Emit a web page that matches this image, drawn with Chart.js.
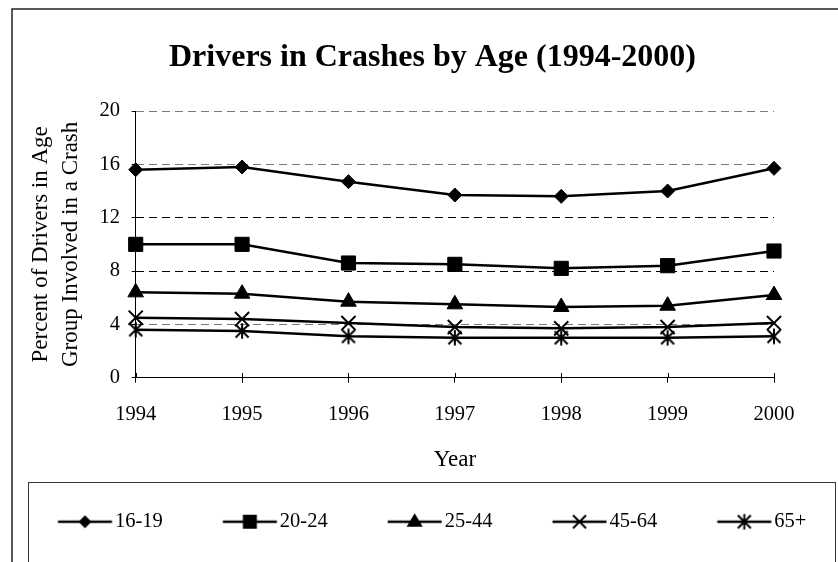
<!DOCTYPE html>
<html>
<head>
<meta charset="utf-8">
<script src="https://cdn.jsdelivr.net/npm/chart.js@4/dist/chart.umd.min.js"></script>
<style>
html,body{margin:0;padding:0;background:#fff;}
#c{display:block;}
</style>
</head>
<body>
<canvas id="c" width="838" height="562"></canvas>
<script>
// ---- data ----
const years = ['1994', '1995', '1996', '1997', '1998', '1999', '2000'];
const seriesNames = ['16-19', '20-24', '25-44', '45-64', '65+'];
const age16to19 = [15.6, 15.8, 14.7, 13.7, 13.6, 14.0, 15.7];
const age20to24 = [10.0, 10.0, 8.6, 8.5, 8.2, 8.4, 9.5];
const age25to44 = [6.4, 6.3, 5.7, 5.5, 5.3, 5.4, 6.2];
const age45to64 = [4.5, 4.4, 4.1, 3.8, 3.7, 3.8, 4.1];
const age65plus = [3.6, 3.5, 3.1, 3.0, 3.0, 3.0, 3.1];
const yTickValues = [0, 4, 8, 12, 16, 20];
const chartTitle = 'Drivers in Crashes by Age (1994-2000)';
const xTitle = 'Year';
const yTitle = ['Percent of Drivers in Age', 'Group Involved in a Crash'];

const seriesData = [age16to19, age20to24, age25to44, age45to64, age65plus];

const FONT = "'Liberation Serif', 'Times New Roman', serif";
Chart.defaults.color = '#000';
Chart.defaults.font.family = FONT;

// ---- marker helpers ----
function drawMarker(g, type, x, y, r) {
  g.save();
  g.fillStyle = '#000';
  g.strokeStyle = '#000';
  g.beginPath();
  if (type === 'diamond') {
    g.moveTo(x, y - r); g.lineTo(x + r, y); g.lineTo(x, y + r); g.lineTo(x - r, y); g.closePath(); g.fill();
  } else if (type === 'square') {
    g.rect(x - r, y - r, 2 * r, 2 * r); g.fill();
  } else if (type === 'triangle') {
    g.moveTo(x, y - r); g.lineTo(x + r * 0.95, y + r * 0.6); g.lineTo(x - r * 0.95, y + r * 0.6); g.closePath(); g.fill();
  } else if (type === 'x') {
    g.lineWidth = 2;
    g.moveTo(x - r, y - r); g.lineTo(x + r, y + r);
    g.moveTo(x + r, y - r); g.lineTo(x - r, y + r); g.stroke();
  } else if (type === 'asterisk') {
    g.lineWidth = 2;
    g.moveTo(x - r, y - r); g.lineTo(x + r, y + r);
    g.moveTo(x + r, y - r); g.lineTo(x - r, y + r);
    g.moveTo(x, y - r * 1.2); g.lineTo(x, y + r * 1.2); g.stroke();
  }
  g.restore();
}

function asteriskImage() {
  const c = document.createElement('canvas');
  c.width = 20; c.height = 20;
  drawMarker(c.getContext('2d'), 'asterisk', 10, 10, 6.5);
  return c;
}

const markerSpecs = [
  { pointStyle: 'rectRot', radius: 7, borderWidth: 1, legend: 'diamond', lr: 6.5 },
  { pointStyle: 'rect', radius: 10, borderWidth: 1, legend: 'square', lr: 7 },
  { pointStyle: 'triangle', radius: 9, borderWidth: 1, legend: 'triangle', lr: 8.5 },
  { pointStyle: 'crossRot', radius: 10, borderWidth: 2, legend: 'x', lr: 6.5 },
  { pointStyle: asteriskImage(), radius: 8, borderWidth: 2, legend: 'asterisk', lr: 6.5 }
];

// legend geometry
const LEG_FONT = 20.5, LEG_B = 96.75, LEG_PAD = 10, LEG_GX = 50, LINE_LEN = 54;

function legendGlyph(spec) {
  const cx = LEG_B / 2;
  const half = Math.max(Math.abs(LEG_GX - cx), Math.abs(LEG_GX + LINE_LEN - cx)) + 2;
  const W = Math.ceil(2 * half), H = 22;
  const c = document.createElement('canvas');
  c.width = W; c.height = H;
  const g = c.getContext('2d');
  const x0 = LEG_GX - cx + W / 2;
  g.strokeStyle = '#000';
  g.lineWidth = 2.5;
  g.beginPath(); g.moveTo(x0, H / 2); g.lineTo(x0 + LINE_LEN, H / 2); g.stroke();
  drawMarker(g, spec.legend, x0 + LINE_LEN / 2, H / 2, spec.lr);
  return c;
}
const legendGlyphs = markerSpecs.map(legendGlyph);

// ---- frame & tick plugin ----
const framePlugin = {
  id: 'frame',
  beforeDraw(chart) {
    const ctx = chart.ctx;
    ctx.save();
    ctx.fillStyle = '#fff';
    ctx.fillRect(0, 0, chart.width, chart.height);
    ctx.strokeStyle = '#222';
    ctx.lineWidth = 1.5;
    ctx.strokeRect(12, 9, 900, 700);
    ctx.lineWidth = 1;
    ctx.strokeStyle = '#333';
    ctx.strokeRect(28.5, 482.5, 807, 200);
    ctx.restore();
  },
  beforeDatasetsDraw(chart) {
    const xs = chart.scales.x, ctx = chart.ctx;
    const yb = chart.chartArea.bottom;
    ctx.save();
    ctx.strokeStyle = '#000';
    ctx.lineWidth = 1;
    ctx.beginPath();
    xs.ticks.forEach((t, i) => {
      const px = Math.round(xs.getPixelForTick(i)) + 0.5;
      ctx.moveTo(px, Math.round(yb) - 5);
      ctx.lineTo(px, Math.round(yb));
    });
    ctx.stroke();
    ctx.restore();
  }
};

new Chart(document.getElementById('c'), {
  type: 'line',
  data: {
    labels: years,
    datasets: seriesNames.map((name, i) => ({
      label: name,
      data: seriesData[i],
      borderColor: '#000',
      backgroundColor: '#000',
      borderWidth: 2.5,
      tension: 0,
      fill: false,
      pointStyle: markerSpecs[i].pointStyle,
      pointRadius: markerSpecs[i].radius,
      pointHoverRadius: markerSpecs[i].radius,
      pointBorderWidth: markerSpecs[i].borderWidth,
      pointBackgroundColor: '#000',
      pointBorderColor: '#000'
    }))
  },
  options: {
    responsive: false,
    animation: false,
    devicePixelRatio: 1,
    layout: { padding: { left: -2, right: -29, top: 0, bottom: 20 } },
    plugins: {
      title: {
        display: true,
        text: chartTitle,
        color: '#000',
        font: { family: FONT, size: 32, weight: 'bold', lineHeight: 1.2 },
        padding: { top: 38.8, bottom: 33.8 }
      },
      legend: {
        display: true,
        position: 'bottom',
        align: 'start',
        labels: {
          usePointStyle: true,
          pointStyleWidth: LEG_B,
          padding: LEG_PAD,
          color: '#000',
          font: { family: FONT, size: LEG_FONT },
          generateLabels: (chart) => chart.data.datasets.map((ds, i) => ({
            text: ds.label,
            pointStyle: legendGlyphs[i],
            fillStyle: '#000',
            strokeStyle: '#000',
            lineWidth: 0,
            hidden: false,
            datasetIndex: i,
            fontColor: '#000'
          }))
        }
      },
      tooltip: { enabled: false }
    },
    scales: {
      x: {
        type: 'category',
        offset: false,
        grid: { display: true, drawOnChartArea: false, drawTicks: true, tickLength: 5, tickColor: '#000', color: '#000' },
        border: { display: true, color: '#000', width: 1 },
        ticks: { color: '#000', font: { family: FONT, size: 20.5 }, padding: 20, maxRotation: 0, autoSkip: false },
        title: { display: true, text: xTitle, color: '#000', font: { family: FONT, size: 23, lineHeight: 1.2 }, padding: { top: 0, bottom: 27.7 } },
        afterFit(s) { s.height = 123.8; }
      },
      y: {
        min: 0,
        max: 20,
        afterBuildTicks(s) { s.ticks = yTickValues.map(v => ({ value: v })); },
        grid: {
          color: (ctx) => {
            const v = ctx.tick ? ctx.tick.value : null;
            if (v === 0) return 'rgba(0,0,0,0)';
            return (v === 8 || v === 12) ? '#000' : '#7a7a7a';
          },
          lineWidth: 1,
          drawTicks: true,
          tickLength: 4,
          tickColor: '#000'
        },
        border: { display: true, color: '#000', width: 1, dash: [8, 5] },
        ticks: { color: '#000', font: { family: FONT, size: 20.5 }, padding: 11.7 },
        title: { display: true, text: yTitle, color: '#000', font: { family: FONT, size: 23, lineHeight: 1.3 }, padding: { top: 28, bottom: 0 } },
        afterFit(s) { s.width = 137.7; }
      },
      yR: {
        position: 'right',
        display: true,
        grid: { display: false },
        border: { display: false },
        ticks: { display: false },
        afterFit(s) { s.width = 93; }
      }
    }
  },
  plugins: [framePlugin]
});
</script>
</body>
</html>
